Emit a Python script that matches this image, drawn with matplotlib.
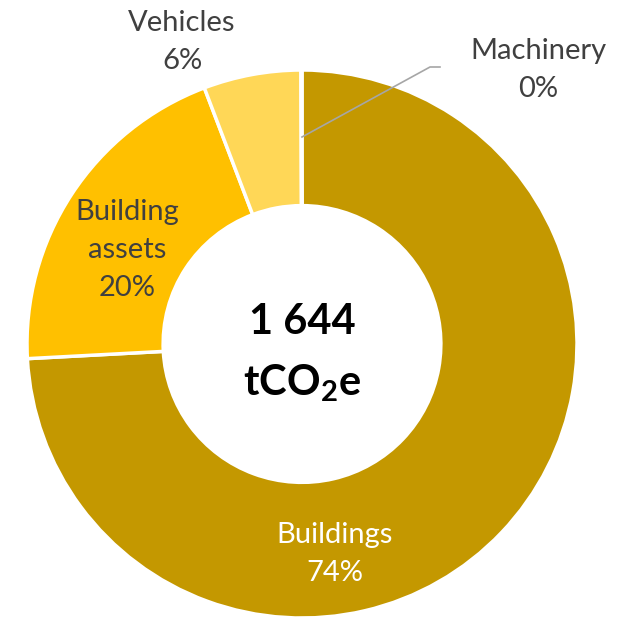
import matplotlib
matplotlib.use("Agg")
import matplotlib.pyplot as plt

# ---- data ----
categories = ["Buildings", "Building assets", "Vehicles", "Machinery"]
emissions_t = [1219, 330, 94, 1]          # tCO2e
pct_labels = ["74%", "20%", "6%", "0%"]
label_text = ["Buildings", "Building\nassets", "Vehicles", "Machinery"]
total_label = "1 644"

colors = ["#C49800", "#FFC000", "#FFD757", "#E8E8E8"]
text_colors = ["white", "#404040", "#404040", "#404040"]

plt.rcParams["font.family"] = ["Lato", "DejaVu Sans"]
plt.rcParams["mathtext.fontset"] = "custom"
plt.rcParams["mathtext.rm"] = "Lato"
plt.rcParams["mathtext.bf"] = "Lato:bold"

W, H = 629, 619
fig = plt.figure(figsize=(W / 100, H / 100), dpi=100)
ax = fig.add_axes([0, 0, 1, 1])

ax.pie(emissions_t, colors=colors, startangle=90, counterclock=False,
       radius=1.0, wedgeprops=dict(width=0.495, edgecolor="white", linewidth=2.5))

cx, cy, sx, sy = 302, 344, 275, 274
ax.set_aspect("auto")
ax.set_xlim(-cx / sx, (W - cx) / sx)
ax.set_ylim(-(H - cy) / sy, cy / sy)
ax.axis("off")

def px(x, y):
    return (x - cx) / sx, (cy - y) / sy

# label layout (pixel centres)
label_pos = [(335, 554), (127, 250), (182, 42), (538, 70)]
for txt, pct, pos, col in zip(label_text, pct_labels, label_pos, text_colors):
    x, y = px(*pos)
    ax.text(x, y, f"{txt}\n{pct}", ha="center", va="center", fontsize=21,
            color=col, linespacing=1.55)

# leader line for Machinery
lx, ly = zip(px(302, 137), px(430, 67), px(440, 67))
ax.plot(lx, ly, color="#A6A6A6", lw=1.2)

# centre text
x, y = px(302, 322)
ax.text(x, y, total_label, ha="center", va="center", fontsize=30,
        fontweight="bold", color="black")
x, y = px(302, 383)
ax.text(x, y, r"$\mathbf{tCO_2e}$", ha="center", va="center", fontsize=30,
        color="black")

fig.savefig("out.png", dpi=100)
